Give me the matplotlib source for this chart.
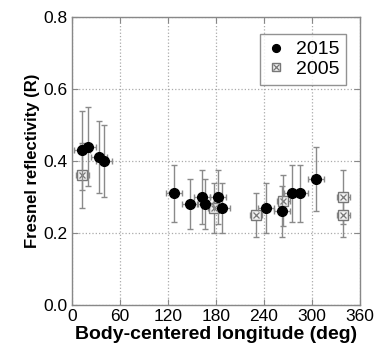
import matplotlib
matplotlib.use("Agg")
import matplotlib.pyplot as plt
from matplotlib.legend_handler import HandlerTuple

plt.rcParams['font.family'] = ['Liberation Sans', 'DejaVu Sans']

# 2015 data
lon_2015 = [13, 20, 34, 40, 128, 148, 163, 166, 183, 187, 242, 262, 275, 285, 305]
r_2015 = [0.43, 0.44, 0.41, 0.40, 0.31, 0.28, 0.30, 0.28, 0.30, 0.27, 0.27, 0.26, 0.31, 0.31, 0.35]
rerr_2015 = [0.11, 0.11, 0.10, 0.10, 0.08, 0.07, 0.075, 0.07, 0.075, 0.07, 0.07, 0.07, 0.08, 0.08, 0.09]
lonerr_2015 = [10] * 15

# 2005 data
lon_2005 = [13, 178, 230, 264, 339, 339]
r_2005 = [0.36, 0.27, 0.25, 0.29, 0.30, 0.25]
rerr_2005 = [0.09, 0.07, 0.06, 0.07, 0.075, 0.06]
lonerr_2005 = [8] * 6

xticks = [0, 60, 120, 180, 240, 300, 360]
yticks = [0.0, 0.2, 0.4, 0.6, 0.8]

fig = plt.figure(figsize=(3.79, 3.55), dpi=100)
ax = fig.add_axes([0.19, 0.141, 0.76, 0.811])

ecol = '#8a8a8a'
ax.errorbar(lon_2005, r_2005, yerr=rerr_2005, xerr=lonerr_2005, fmt='none',
            ecolor=ecol, elinewidth=1.0, capsize=2, capthick=1.0, zorder=2)
sq = ax.plot(lon_2005, r_2005, 's', ms=7.5, mfc='#f2f2f2', mec='#777777', mew=1.0,
             ls='none', zorder=3)[0]
xx = ax.plot(lon_2005, r_2005, 'x', ms=5, mec='#777777', mew=0.9, ls='none', zorder=4)[0]

ax.errorbar(lon_2015, r_2015, yerr=rerr_2015, xerr=lonerr_2015, fmt='none',
            ecolor=ecol, elinewidth=1.0, capsize=2, capthick=1.0, zorder=5)
c15 = ax.plot(lon_2015, r_2015, 'o', ms=7, color='black', ls='none', zorder=6)[0]

ax.set_xlim(0, 360)
ax.set_ylim(0, 0.8)
ax.set_xticks(xticks)
ax.set_yticks(yticks)
ax.set_yticklabels([f"{v:.1f}" for v in yticks])
ax.tick_params(direction='in', top=True, right=True, labelsize=12.5, length=4,
               color='#888888', pad=3)
ax.grid(True, linestyle=':', color='#aaaaaa', linewidth=0.9)
for s in ax.spines.values():
    s.set_color('#888888')
    s.set_linewidth(1.0)

ax.set_xlabel('Body-centered longitude (deg)', fontsize=14, fontweight='bold', labelpad=1)
ax.set_ylabel('Fresnel reflectivity (R)', fontsize=12, fontweight='bold', labelpad=3)

leg = ax.legend([c15, (sq, xx)], ['2015', '2005'],
                handler_map={tuple: HandlerTuple(ndivide=1, pad=0)},
                loc='upper right', fontsize=14, frameon=True, fancybox=False,
                handlelength=1.0, handletextpad=0.5, borderpad=0.35,
                labelspacing=0.1, markerscale=0.8, bbox_to_anchor=(0.985, 0.975))
leg.get_frame().set_edgecolor('#777777')
leg.get_frame().set_linewidth(1.0)

fig.savefig('out.png', dpi=100)
